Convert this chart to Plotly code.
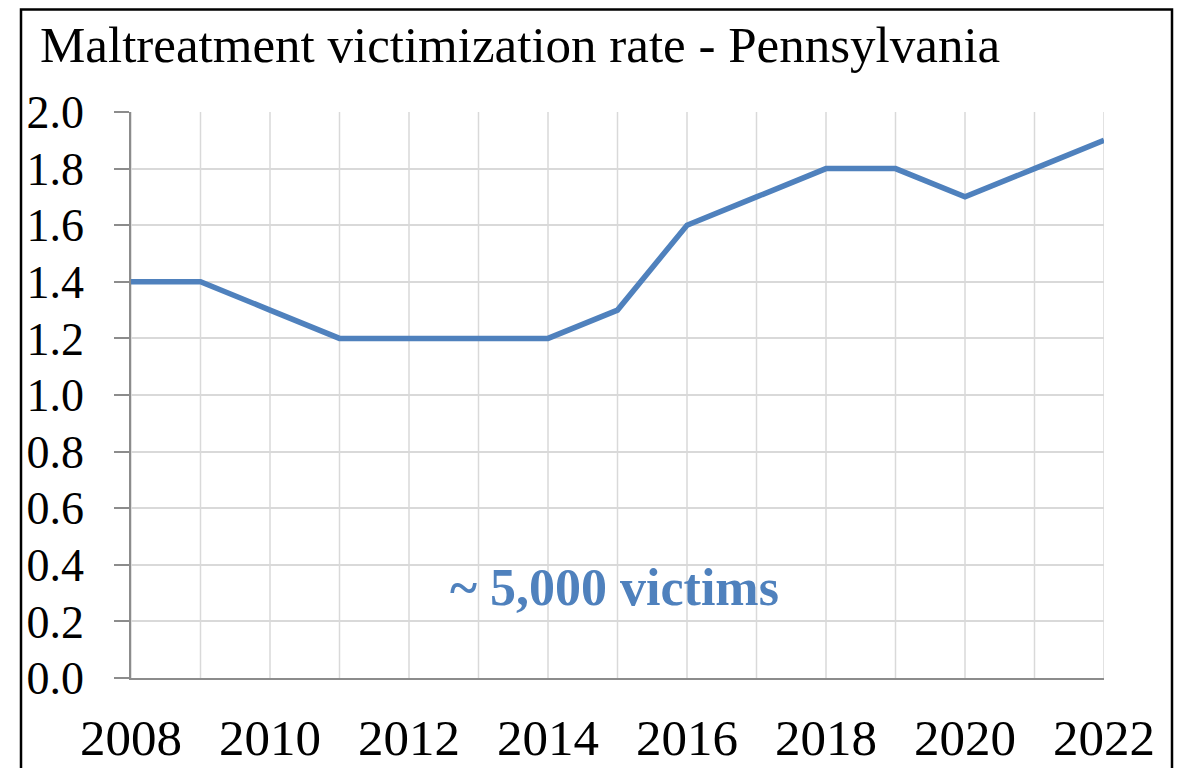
import plotly.graph_objects as go

years = [2008, 2009, 2010, 2011, 2012, 2013, 2014, 2015, 2016, 2017, 2018, 2019, 2020, 2021, 2022]
rates = [1.4, 1.4, 1.3, 1.2, 1.2, 1.2, 1.2, 1.3, 1.6, 1.7, 1.8, 1.8, 1.7, 1.8, 1.9]
x_ticks = [2008, 2010, 2012, 2014, 2016, 2018, 2020, 2022]
y_ticks = [0.0, 0.2, 0.4, 0.6, 0.8, 1.0, 1.2, 1.4, 1.6, 1.8, 2.0]
title_text = "Maltreatment victimization rate - Pennsylvania"
note_text = "~ 5,000 victims"

# page body margin offset compensation (figure is drawn 8px in from page corner)
OX, OY = 8, 8
W, H = 1183, 768
L, R, T, B = 131 - OX, 79 + OX, 112 - OY, 90 + OY
pw, ph = W - L - R, H - T - B

def px_x(p):
    # page pixel -> paper fraction
    return (p - OX - L) / pw

def px_y(p):
    return (H - B - (p - OY)) / ph

FONT = "Liberation Serif"
BLUE = "#4f81bd"

fig = go.Figure()
fig.add_trace(go.Scatter(x=years, y=rates, mode="lines",
                         line=dict(color=BLUE, width=5.5), cliponaxis=False,
                         hoverinfo="skip"))

fig.update_layout(
    width=W, height=H,
    margin=dict(l=L, r=R, t=T, b=B, autoexpand=False),
    paper_bgcolor="white", plot_bgcolor="white",
    showlegend=False,
    font=dict(family=FONT, color="black"),
    xaxis=dict(range=[2008, 2022], tickmode="array", tickvals=x_ticks,
               ticktext=[str(v) for v in x_ticks], automargin=False,
               showgrid=False, zeroline=False,
               showline=True, linecolor="#8c8c8c", linewidth=1.5,
               ticks="", tickfont=dict(size=51, family=FONT, color="black"),
               ticklabelstandoff=14),
    yaxis=dict(range=[0, 2], tickmode="array", tickvals=y_ticks,
               ticktext=[f"{v:.1f}" for v in y_ticks], automargin=False,
               showgrid=True, gridcolor="#d9d9d9", gridwidth=1.5,
               zeroline=False, showline=True, linecolor="#8c8c8c", linewidth=1.5,
               ticks="outside", ticklen=15, tickcolor="#8c8c8c", tickwidth=1.5,
               tickfont=dict(size=46, family=FONT, color="black"),
               ticklabelstandoff=21),
)

# vertical gridlines at every year
for yr in years:
    fig.add_shape(type="line", xref="x", yref="y", x0=yr, x1=yr, y0=0, y1=2,
                  line=dict(color="#d9d9d9", width=1.5), layer="below")

# outer border (bottom extends past the image)
fig.add_shape(type="rect", xref="paper", yref="paper",
              x0=px_x(21), x1=px_x(1172), y0=px_y(820), y1=px_y(9.5),
              line=dict(color="black", width=2.5), fillcolor="rgba(0,0,0,0)",
              layer="above")

fig.add_annotation(xref="paper", yref="paper", x=px_x(38), y=px_y(45),
                   xanchor="left", yanchor="middle", showarrow=False,
                   text=title_text, font=dict(size=51, family=FONT, color="black"))

fig.add_annotation(xref="x", yref="y", x=2014.95, y=0.32,
                   xanchor="center", yanchor="middle", showarrow=False,
                   text=f"<b>{note_text}</b>", font=dict(size=52, family=FONT, color=BLUE))

fig.write_html("out.html")
